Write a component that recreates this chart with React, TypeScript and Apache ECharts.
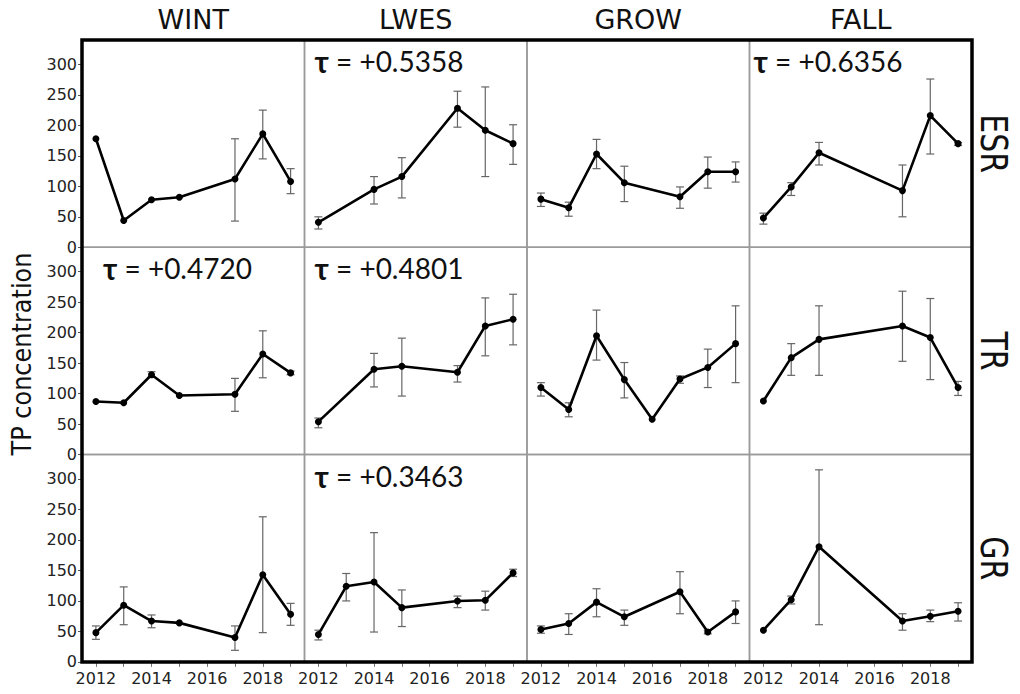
import React, { useEffect, useRef } from "react";
import * as echarts from "echarts";

const columns = ["WINT", "LWES", "GROW", "FALL"];
const rows = ["ESR", "TR", "GR"];
const years = [2012, 2013, 2014, 2015, 2016, 2017, 2018, 2019];
const yTicks = [0, 50, 100, 150, 200, 250, 300];
const xLabelYears = [2012, 2014, 2016, 2018];

// ESR row
const wintEsr = [178, 44, 78, 82, null, 112, 186, 108];
const wintEsrLo = [null, null, null, null, null, 43, 145, 88];
const wintEsrHi = [null, null, null, null, null, 178, 225, 129];
const lwesEsr = [41, null, 95, 116, null, 228, 192, 170];
const lwesEsrLo = [30, null, 71, 81, null, 197, 116, 136];
const lwesEsrHi = [50, null, 116, 147, null, 256, 263, 201];
const growEsr = [79, 65, 153, 106, null, 83, 124, 124];
const growEsrLo = [67, 51, 129, 75, null, 64, 97, 107];
const growEsrHi = [89, 74, 177, 133, null, 99, 148, 140];
const fallEsr = [48, 99, 155, null, null, 93, 216, 170];
const fallEsrLo = [38, 85, 135, null, null, 50, 153, 167];
const fallEsrHi = [56, 106, 172, null, null, 135, 276, 172];

// TR row
const wintTr = [87, 85, 131, 97, null, 99, 165, 134];
const wintTrLo = [null, null, 127, null, null, 71, 126, 131];
const wintTrHi = [null, null, 136, null, null, 125, 203, 137];
const lwesTr = [54, null, 140, 145, null, 135, 211, 222];
const lwesTrLo = [44, null, 111, 96, null, 119, 162, 180];
const lwesTrHi = [60, null, 166, 191, null, 146, 257, 263];
const growTr = [110, 74, 195, 123, 58, 124, 143, 182];
const growTrLo = [96, 62, 155, 93, null, 117, 110, 118];
const growTrHi = [118, 85, 237, 151, null, 129, 173, 244];
const fallTr = [88, 159, 189, null, null, 211, 192, 110];
const fallTrLo = [null, 130, 130, null, null, 153, 123, 97];
const fallTrHi = [null, 182, 244, null, null, 268, 256, 120];

// GR row
const wintGr = [48, 93, 67, 64, null, 40, 143, 78];
const wintGrLo = [37, 61, 56, null, null, 19, 48, 60];
const wintGrHi = [59, 123, 77, null, null, 59, 238, 96];
const lwesGr = [45, 124, 131, 89, null, 100, 101, 146];
const lwesGrLo = [36, 100, 49, 58, null, 89, 85, 140];
const lwesGrHi = [52, 145, 212, 118, null, 108, 116, 152];
const growGr = [53, 63, 98, 74, null, 115, 49, 82];
const growGrLo = [47, 45, 74, 60, null, 79, 46, 63];
const growGrHi = [59, 79, 120, 85, null, 148, 52, 100];
const fallGr = [52, 102, 189, null, null, 67, 75, 83];
const fallGrLo = [null, 95, 61, null, null, 52, 66, 67];
const fallGrHi = [null, 108, 315, null, null, 79, 85, 97];

const panels = [
  [
    [wintEsr, wintEsrLo, wintEsrHi],
    [lwesEsr, lwesEsrLo, lwesEsrHi],
    [growEsr, growEsrLo, growEsrHi],
    [fallEsr, fallEsrLo, fallEsrHi],
  ],
  [
    [wintTr, wintTrLo, wintTrHi],
    [lwesTr, lwesTrLo, lwesTrHi],
    [growTr, growTrLo, growTrHi],
    [fallTr, fallTrLo, fallTrHi],
  ],
  [
    [wintGr, wintGrLo, wintGrHi],
    [lwesGr, lwesGrLo, lwesGrHi],
    [growGr, growGrLo, growGrHi],
    [fallGr, fallGrLo, fallGrHi],
  ],
];

const tauTexts = [
  [null, "+0.5358", null, "+0.6356"],
  ["+0.4720", "+0.4801", null, null],
  [null, "+0.3463", null, null],
];

const LEFT = 82;
const TOP = 40;
const CW = 222.5;
const RH = 207.3;
const tauOffsetX = [21, 10, 8, 4];
const tauOffsetY = 21;

const FONT = "'DejaVu Sans', Verdana, sans-serif";

export default function App() {
  const ref = useRef<HTMLDivElement>(null);
  useEffect(() => {
    if (!ref.current) return;
    const chart = echarts.init(ref.current, null, { renderer: "svg" });
    const grid: any[] = [];
    const xAxis: any[] = [];
    const yAxis: any[] = [];
    const series: any[] = [];
    const graphic: any[] = [];
    let idx = 0;
    for (let r = 0; r < 3; r++) {
      for (let c = 0; c < 4; c++) {
        grid.push({
          left: LEFT + c * CW,
          top: TOP + r * RH,
          width: CW,
          height: RH,
          show: true,
          borderColor: "#9a9a9a",
          borderWidth: 1.5,
          backgroundColor: "transparent",
        });
        const bottom = r === 2;
        xAxis.push({
          type: "value",
          gridIndex: idx,
          min: 2011.5,
          max: 2019.5,
          show: bottom,
          axisLine: { show: false },
          splitLine: { show: false },
          axisTick: {
            show: true,
            length: 5,
            customValues: years,
            lineStyle: { color: "#777", width: 1 },
          },
          axisLabel: {
            customValues: xLabelYears,
            formatter: (v: number) => String(v),
            fontSize: 16,
            color: "#222",
            fontFamily: FONT,
            margin: 9,
          },
        });
        yAxis.push({
          type: "value",
          gridIndex: idx,
          min: 0,
          max: 340,
          show: c === 0,
          axisLine: { show: false },
          splitLine: { show: false },
          axisTick: {
            show: true,
            length: 4,
            customValues: yTicks,
            lineStyle: { color: "#555", width: 1 },
          },
          axisLabel: {
            customValues: yTicks,
            formatter: (v: number) => String(v),
            fontSize: 16,
            color: "#222",
            fontFamily: FONT,
            margin: 5,
          },
        });
        const [vals, lo, hi] = panels[r][c];
        const errData = years
          .map((y, i) => (lo[i] == null ? null : [y, lo[i], hi[i]]))
          .filter((d) => d !== null);
        const lineData = years
          .map((y, i) => (vals[i] == null ? null : [y, vals[i]]))
          .filter((d) => d !== null);
        series.push({
          type: "custom",
          xAxisIndex: idx,
          yAxisIndex: idx,
          z: 1,
          data: errData,
          renderItem: (params: any, api: any) => {
            const x = api.value(0);
            const pLo = api.coord([x, api.value(1)]);
            const pHi = api.coord([x, api.value(2)]);
            const w = 4;
            const st = { stroke: "#666", lineWidth: 1.2 };
            return {
              type: "group",
              children: [
                { type: "line", shape: { x1: pLo[0], y1: pLo[1], x2: pHi[0], y2: pHi[1] }, style: st },
                { type: "line", shape: { x1: pLo[0] - w, y1: pLo[1], x2: pLo[0] + w, y2: pLo[1] }, style: st },
                { type: "line", shape: { x1: pHi[0] - w, y1: pHi[1], x2: pHi[0] + w, y2: pHi[1] }, style: st },
              ],
            };
          },
        });
        series.push({
          type: "line",
          xAxisIndex: idx,
          yAxisIndex: idx,
          z: 3,
          data: lineData,
          symbol: "circle",
          symbolSize: 7,
          lineStyle: { color: "#000", width: 2.6 },
          itemStyle: { color: "#000" },
        });
        const tau = tauTexts[r][c];
        if (tau) {
          graphic.push({
            type: "text",
            x: LEFT + c * CW + tauOffsetX[c],
            y: TOP + r * RH + tauOffsetY,
            style: {
              text: "{b|τ} = " + tau,
              fontSize: 28,
              fontFamily: "Lato, 'Open Sans', sans-serif",
              fill: "#111",
              verticalAlign: "middle",
              rich: {
                b: { fontWeight: "bold", fontSize: 30, fontFamily: "Lato, sans-serif", fill: "#111" },
              },
            },
          });
        }
        idx++;
      }
    }
    columns.forEach((t, c) => {
      graphic.push({
        type: "text",
        x: LEFT + c * CW + CW / 2,
        y: 19,
        style: {
          text: t,
          fontSize: 27,
          fontFamily: FONT,
          fill: "#111",
          align: "center",
          verticalAlign: "middle",
        },
      });
    });
    rows.forEach((t, r) => {
      graphic.push({
        type: "text",
        x: 994,
        y: TOP + r * RH + RH / 2,
        rotation: -Math.PI / 2,
        scaleY: 1.25,
        style: {
          text: t,
          fontSize: 30,
          fontFamily: FONT,
          fill: "#111",
          align: "center",
          verticalAlign: "middle",
        },
      });
    });
    graphic.push({
      type: "text",
      x: 22,
      y: 354,
      rotation: Math.PI / 2,
      scaleY: 1.12,
      style: {
        text: "TP concentration",
        fontSize: 24,
        fontFamily: FONT,
        fill: "#111",
        align: "center",
        verticalAlign: "middle",
      },
    });
    graphic.push({
      type: "rect",
      shape: { x: LEFT, y: TOP, width: CW * 4, height: RH * 3 },
      style: { fill: "none", stroke: "#000", lineWidth: 3.5 },
      z: 100,
    });
    chart.setOption({
      animation: false,
      backgroundColor: "#fff",
      grid,
      xAxis,
      yAxis,
      series,
      graphic,
    });
    return () => chart.dispose();
  }, []);
  return (
    <div
      ref={ref}
      style={{ position: "fixed", left: 0, top: 0, width: 1020, height: 694 }}
    />
  );
}
